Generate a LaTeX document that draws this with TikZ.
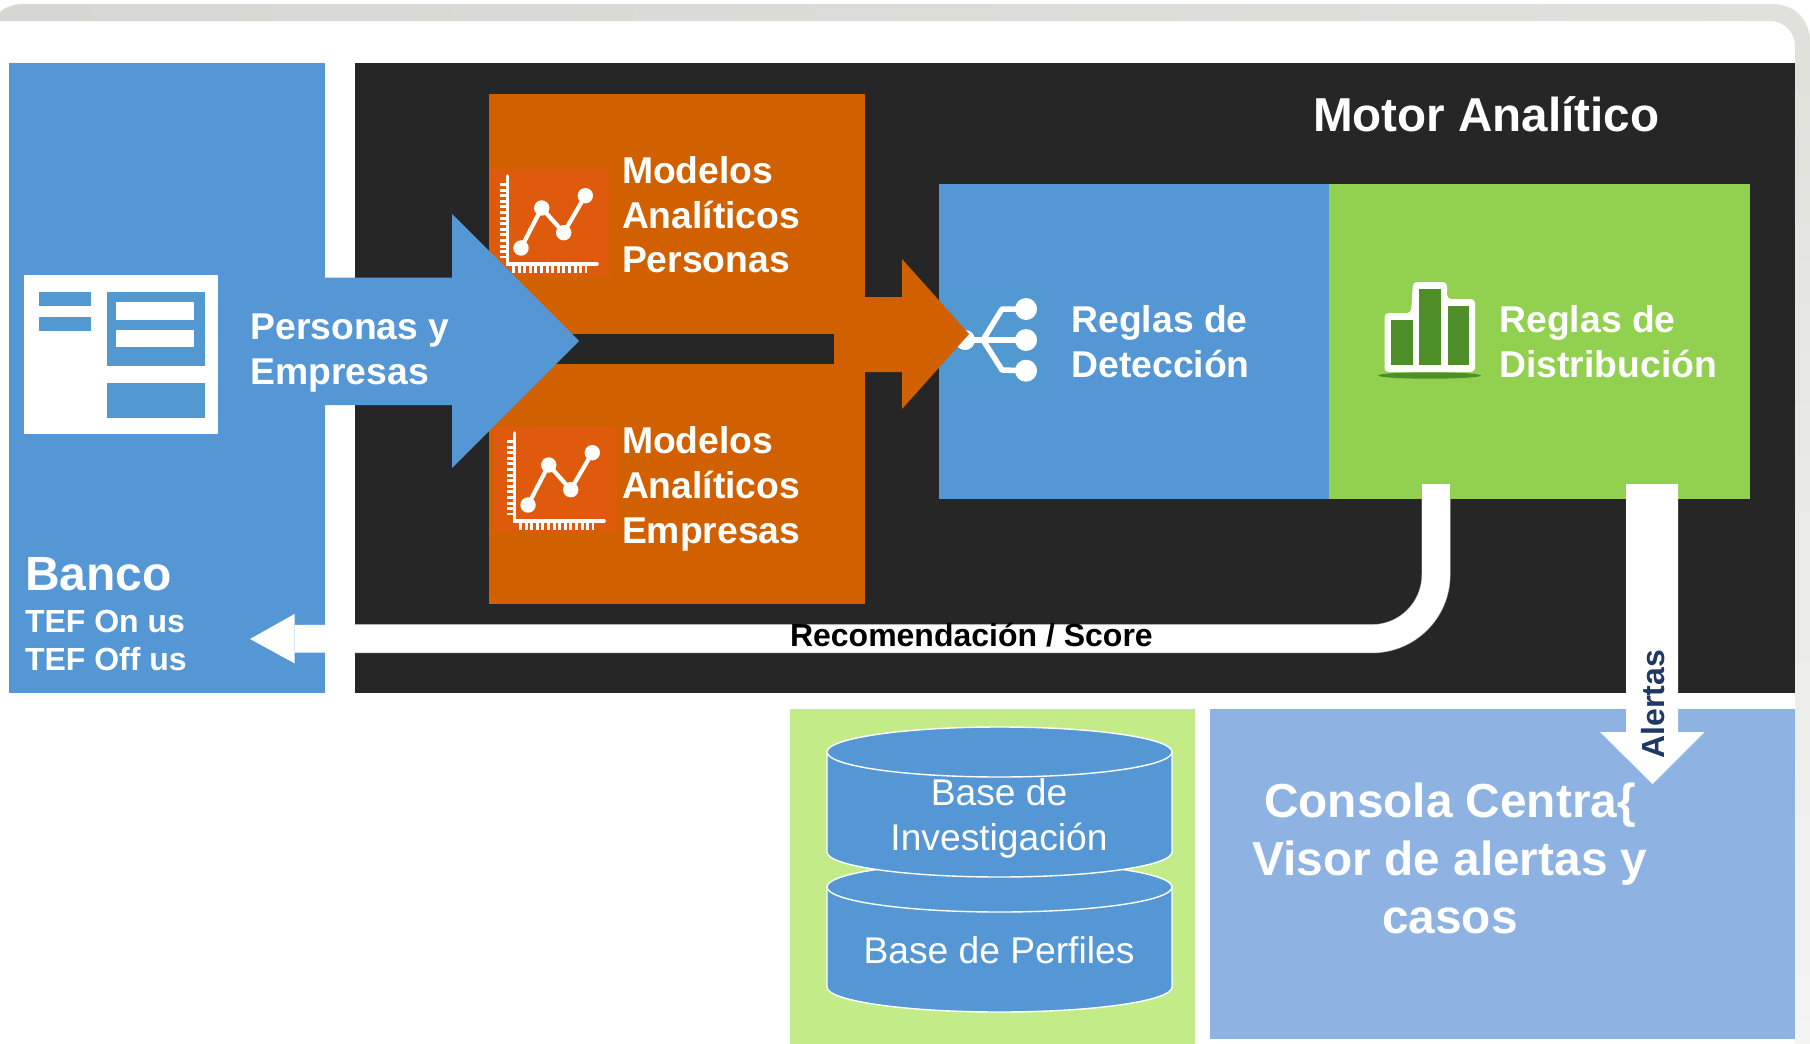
\documentclass[tikz,border=0pt]{standalone}
\usepackage{fontspec}
\setmainfont{Liberation Sans}
\definecolor{cblue}{HTML}{5597D5}
\definecolor{cblack}{HTML}{262626}
\definecolor{corange}{HTML}{D16000}
\definecolor{ciconor}{HTML}{E05A0E}
\definecolor{cgreen}{HTML}{92D050}
\definecolor{cdgreen}{HTML}{4F8F2A}
\definecolor{clime}{HTML}{C3EB87}
\definecolor{clblue}{HTML}{8EB2E2}
\definecolor{cicobl}{HTML}{5199D0}
\definecolor{cnavy}{HTML}{1F3864}
\definecolor{cfa}{HTML}{D6D7D2}
\definecolor{cfb}{HTML}{E8E8E5}
\definecolor{cfc}{HTML}{E1E1DC}
\definecolor{cfd}{HTML}{F4F4F3}
\tikzset{
  panel/.style={inner sep=0pt,outer sep=0pt,draw=none},
  lbl/.style={inner sep=0pt,outer sep=0pt,text=white,anchor=base west,align=left},
  lblb37/.style={lbl,font=\fontsize{37.3bp}{44.8bp}\selectfont\bfseries},
  chartline/.style={white,line width=4.2bp},
  cyl/.style={fill=cblue,draw=white,line width=1.4bp}
}
\newcommand{\rectnode}[6]{%
  \pgfmathsetmacro{\cxx}{(#2+#4)/2}\pgfmathsetmacro{\cyy}{(#3+#5)/2}%
  \pgfmathsetmacro{\www}{#4-#2}\pgfmathsetmacro{\hhh}{#5-#3}%
  \node[panel,fill=#6,minimum width=\www bp,minimum height=\hhh bp] (#1) at (\cxx,\cyy) {};}
\newcommand{\chartglyph}{%
  \draw[white,line width=3.6bp,line cap=round] (507.5,176)--(507.5,264)--(597,264);
  \draw[white,line width=7bp,dash pattern=on 3bp off 2.6bp] (503.5,183)--(503.5,258);
  \draw[white,line width=7bp,dash pattern=on 3bp off 2.6bp] (512,269)--(587,269);
  \draw[chartline] (521,248)--(541.7,208)--(563.7,232.7)--(585.3,195.7);
  \foreach \p in {(521,248),(541.7,208),(563.7,232.7),(585.3,195.7)} \fill[white] \p circle (7.7bp);}
\begin{document}
\begin{tikzpicture}[x=1bp,y=-1bp]
\useasboundingbox (0,0) rectangle (1810,1043);
\fill[white] (0,0) rectangle (1810,1047);
% window frame
\path[left color=cfa,middle color=cfb,right color=cfc]
  (0,12) .. controls (5,7) and (14,4) .. (25,4) -- (1772,4)
  .. controls (1795,4) and (1810,20) .. (1810,42) -- (1810,70) -- (1795,70) -- (1795,46)
  .. controls (1795,32) and (1784,21) .. (1770,21) -- (0,21) -- cycle;
\path[top color=cfc,bottom color=cfd] (1795,70) rectangle (1810,1047);
% panels
\rectnode{banco}{9}{63.5}{325}{693}{cblue}
\rectnode{motor}{355}{63.5}{1795}{693}{cblack}
\rectnode{modelos}{489}{93.5}{865}{604}{corange}
\rectnode{gap}{489}{334}{835}{364}{cblack}
\rectnode{deteccion}{939}{183.5}{1329}{499}{cblue}
\rectnode{distribucion}{1329}{183.5}{1750}{499}{cgreen}
\rectnode{bases}{790}{709}{1195}{1047}{clime}
\rectnode{consola}{1210}{709}{1795}{1039}{clblue}
% table icon
\rectnode{tabla}{24}{275}{218}{434}{white}
\rectnode{t1}{39}{292}{90.5}{305.5}{cicobl}
\rectnode{t2}{39}{317}{90.5}{331}{cicobl}
\rectnode{t3}{107}{292}{205}{366}{cicobl}
\rectnode{t4}{116}{302}{194}{320}{white}
\rectnode{t5}{116}{330}{194}{347}{white}
\rectnode{t6}{107}{383}{205}{418}{cicobl}
% chart icons
\rectnode{icoa}{489}{169}{610}{275}{ciconor}
\rectnode{icob}{494}{427}{617}{531}{ciconor}
\chartglyph
\begin{scope}[shift={(7,257)}]\chartglyph\end{scope}
% network icon
\rectnode{icon}{939}{289}{1051}{395}{cicobl}
\draw[white,line width=5.5bp,line join=round] (965,340)--(1026,340);
\draw[white,line width=5.5bp,line join=round] (1026,309)--(1002,309)--(983,340)--(1002,370)--(1026,370.7);
\foreach \p in {(1026,309),(1026,340),(1026,370.7)} \fill[white] \p circle (11bp);
\fill[white] (965,340) circle (10bp);
% bars icon
\fill[cdgreen] (1429.5,375.5) ellipse (51.5bp and 3.2bp);
\fill[white,rounded corners=4bp] (1384.5,372)--(1384.5,313)--(1411,313)--(1413,282)--(1447,282)--(1447,299)--(1475,299)--(1475,372)--cycle;
\rectnode{b1}{1391}{320}{1413}{365}{cdgreen}
\rectnode{b2}{1419}{288.5}{1441}{365}{cdgreen}
\rectnode{b3}{1447.5}{305.5}{1469}{365}{cdgreen}
% elbow connector
\coordinate (elbowstart) at (1436,484);
\coordinate (elbowend) at (294.5,638.7);
\begin{scope}
\clip (355,499) rectangle (1795,693);
\draw[black!35,line width=29bp,rounded corners=64bp] (elbowstart) |- (elbowend);
\end{scope}
\draw[white,line width=27.8bp,rounded corners=64bp] (elbowstart) |- (elbowend);
\fill[white] (294.5,614) -- (250,639) -- (294.5,663.3) -- cycle;
% alert arrow
\fill[white] (1626,484) -- (1678,484) -- (1678,732) -- (1704.5,732) -- (1652.5,784) -- (1600,732) -- (1626,732) -- cycle;
% orange arrow
\fill[corange] (834,297) -- (902,297) -- (902,259) -- (969,334) -- (902,409) -- (902,372) -- (834,372) -- cycle;
% blue arrow
\fill[cblue] (325,277.5) -- (452,277.5) -- (452,214) -- (579,341) -- (452,468) -- (452,405) -- (325,405) -- cycle;
% cylinders
\path[cyl] (827,887) -- (827,987) arc[start angle=180,end angle=360,x radius=172.5bp,y radius=25bp] -- (1172,887);
\draw[cyl] (999.5,887) ellipse (172.5bp and 25bp);
\path[cyl] (827,752) -- (827,852) arc[start angle=180,end angle=360,x radius=172.5bp,y radius=25bp] -- (1172,752);
\draw[cyl] (999.5,752) ellipse (172.5bp and 25bp);
% labels
\node[lbl,font=\fontsize{47.6bp}{50bp}\selectfont\bfseries] (tmotor) at (1313,131) {Motor Analítico};
\node[lblb37] (tm1) at (622,183.3) {Modelos};
\node[lblb37] (tm2) at (622,228) {Analíticos};
\node[lblb37] (tm3) at (622,272.7) {Personas};
\node[lblb37] (te1) at (622,453) {Modelos};
\node[lblb37] (te2) at (622,498) {Analíticos};
\node[lblb37] (te3) at (622,543) {Empresas};
\node[lblb37] (tp1) at (250.5,339.3) {Personas y};
\node[lblb37] (tp2) at (250.5,384.3) {Empresas};
\node[lbl,font=\fontsize{48bp}{50bp}\selectfont\bfseries] (tb) at (25,590) {Banco};
\node[lbl,font=\fontsize{32bp}{36bp}\selectfont\bfseries] (tt1) at (25,632.7) {TEF On us};
\node[lbl,font=\fontsize{32bp}{36bp}\selectfont\bfseries] (tt2) at (25,670) {TEF Off us};
\node[lblb37] (td1) at (1071.5,332.7) {Reglas de};
\node[lblb37] (td2) at (1071.5,377.5) {Detección};
\node[lblb37] (tr1) at (1499.5,332.7) {Reglas de};
\node[lblb37] (tr2) at (1499.5,377.5) {Distribución};
\node[lbl,text=black,font=\fontsize{32bp}{36bp}\selectfont\bfseries] (trec) at (790,646) {Recomendación / Score};
\node[lbl,text=cnavy,anchor=base,rotate=90,font=\fontsize{32bp}{36bp}\selectfont\bfseries] (tal) at (1664,704) {Alertas};
\node[lbl,anchor=base,font=\fontsize{47.8bp}{50bp}\selectfont\bfseries] (tc1) at (1450,817.3) {Consola Centra\{};
\node[lbl,anchor=base,font=\fontsize{47.8bp}{50bp}\selectfont\bfseries] (tc2) at (1450,875) {Visor de alertas y};
\node[lbl,anchor=base,font=\fontsize{47.8bp}{50bp}\selectfont\bfseries] (tc3) at (1450,933.3) {casos};
\node[lbl,anchor=base,font=\fontsize{37.2bp}{44bp}\selectfont] (tb1) at (999,805) {Base de};
\node[lbl,anchor=base,font=\fontsize{37.2bp}{44bp}\selectfont] (tb2) at (999,850) {Investigación};
\node[lbl,anchor=base,font=\fontsize{37.2bp}{44bp}\selectfont] (tb3) at (999,963.3) {Base de Perfiles};
\end{tikzpicture}
\end{document}
